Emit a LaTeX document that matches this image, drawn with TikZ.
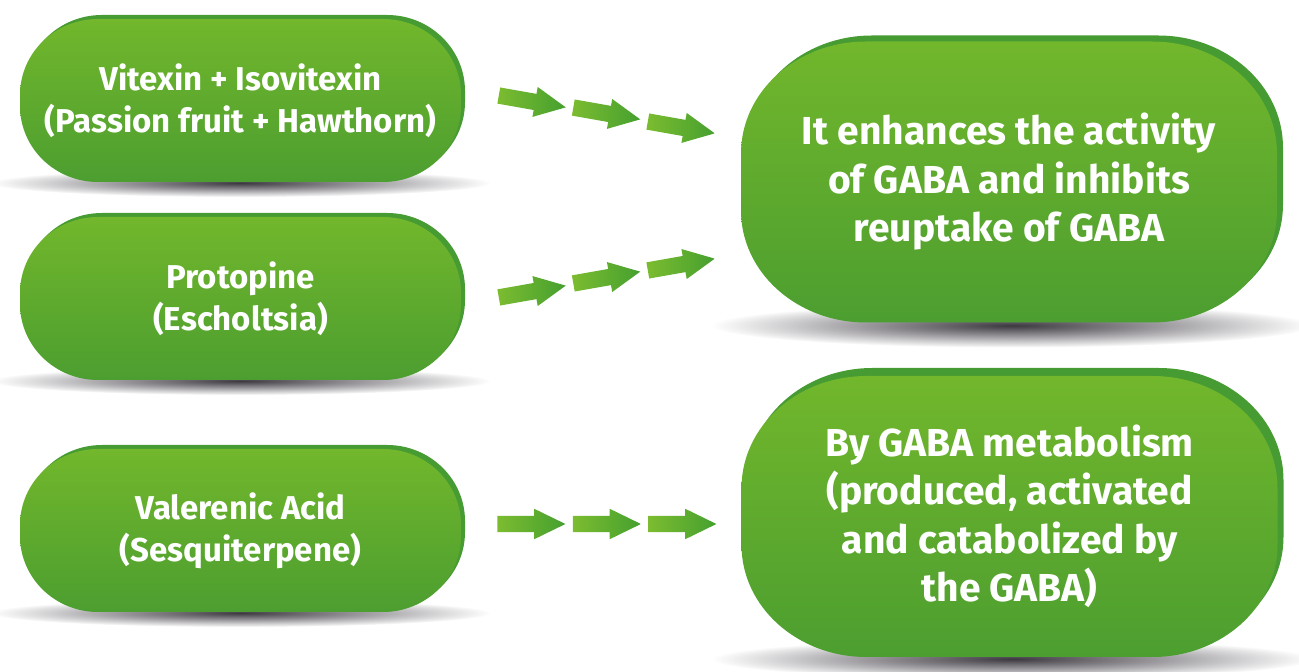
\documentclass[tikz,border=0pt]{standalone}
\usepackage{fontspec}
\setmainfont{Fira Sans}
\usetikzlibrary{shapes.arrows, backgrounds, fadings, calc}

\definecolor{facetop}{HTML}{72B72C}
\definecolor{facebot}{HTML}{4C9E30}
\definecolor{rimgreen}{HTML}{479B33}
\definecolor{arrowlight}{HTML}{7CBC30}
\definecolor{arrowdark}{HTML}{45A02F}
\definecolor{shadowgray}{HTML}{3C3840}

\tikzfading[name=softshadow, inner color=transparent!0, outer color=transparent!100]

% pill outline from a node's corners, elliptic ends
\newcommand{\pillpath}[3]{%
  ([xshift=#2]#1.north west) -- ([xshift=-#2]#1.north east)
  arc[start angle=90, end angle=0, x radius=#2, y radius=#3]
  -- ([yshift=#3]#1.south east)
  arc[start angle=0, end angle=-90, x radius=#2, y radius=#3]
  -- ([xshift=#2]#1.south west)
  arc[start angle=-90, end angle=-180, x radius=#2, y radius=#3]
  -- ([yshift=-#3]#1.north west)
  arc[start angle=180, end angle=90, x radius=#2, y radius=#3] -- cycle}

\newcommand{\drawpill}[5]{%
  \fill[rimgreen, transform canvas={shift={(#4,#5)}}] \pillpath{#1}{#2}{#3};
  \shade[top color=facetop, bottom color=facebot] \pillpath{#1}{#2}{#3};}

\tikzset{
  pill/.style={inner sep=0pt, outer sep=0pt, text=white, align=center},
  smallpill/.style={pill, minimum width=441pt, minimum height=163pt,
    font=\bfseries\fontsize{33}{42}\selectfont},
  bigpill/.style={pill, minimum width=536pt, minimum height=281pt,
    font=\bfseries\fontsize{39}{48.5}\selectfont},
  chevron/.style={single arrow, minimum height=68pt, inner xsep=0pt,
    inner ysep=8pt, single arrow head extend=7pt,
    single arrow tip angle=52, left color=arrowlight, right color=arrowdark}
}

\begin{document}
\begin{tikzpicture}[x=1pt, y=1pt]
\useasboundingbox (0,0) rectangle (1299,672);

% sources
\node[smallpill] (vitexin) at (240.5,571.5) {Vitexin + Isovitexin\\(Passion fruit + Hawthorn)};
\node[smallpill] (protopine) at (240.5,373.5) {Protopine\\(Escholtsia)};
\node[smallpill] (valerenic) at (240.5,141.5) {Valerenic Acid\\(Sesquiterpene)};

% effects
\node[bigpill] (gabaact) at (1009,490) {It enhances the activity\\of GABA and inhibits\\reuptake of GABA};
\node[bigpill] (gabamet) at (1009.5,155.5) {By GABA metabolism\\(produced, activated\\and catabolized by\\the GABA)};

% arrows
\node[chevron, rotate=-10] (a11) at (524,572) {};
\node[chevron, rotate=-10] (a12) at (598.5,560) {};
\node[chevron, rotate=-10] (a13) at (673,546) {};
\node[chevron, rotate=10] (a21) at (524,379) {};
\node[chevron, rotate=10] (a22) at (598.5,393) {};
\node[chevron, rotate=10] (a23) at (673,406) {};
\node[chevron] (a31) at (523,148) {};
\node[chevron] (a32) at (598.5,148) {};
\node[chevron] (a33) at (674,148) {};

\begin{scope}[on background layer]
\fill[shadowgray, path fading=softshadow] ([yshift=-1pt]vitexin.south) ellipse [x radius=250, y radius=14];
\fill[shadowgray, path fading=softshadow] ([yshift=-1pt]protopine.south) ellipse [x radius=250, y radius=14];
\fill[shadowgray, path fading=softshadow] ([yshift=-1pt]valerenic.south) ellipse [x radius=250, y radius=14];
\fill[shadowgray, path fading=softshadow] ([xshift=3pt,yshift=-3pt]gabaact.south) ellipse [x radius=300, y radius=22];
\fill[shadowgray, path fading=softshadow] ([xshift=3pt,yshift=-2pt]gabamet.south) ellipse [x radius=300, y radius=20];
\drawpill{vitexin}{78pt}{76pt}{4pt}{4pt}
\drawpill{protopine}{78pt}{76pt}{4pt}{4pt}
\drawpill{valerenic}{78pt}{76pt}{4pt}{4pt}
\drawpill{gabaact}{125pt}{112pt}{6pt}{6pt}
\drawpill{gabamet}{125pt}{112pt}{6pt}{8pt}
\end{scope}
\end{tikzpicture}
\end{document}
